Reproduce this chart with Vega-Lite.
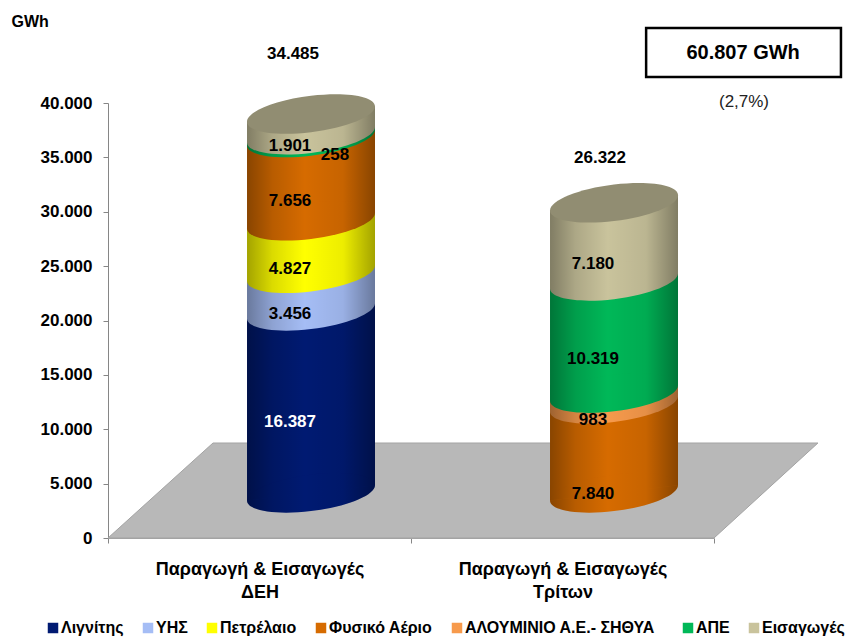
{
"$schema":"https://vega.github.io/schema/vega-lite/v6.json",
"width":606,"height":435,"autosize":"none",
"padding":{"left":108,"top":103,"right":134,"bottom":100},
"background":"white",
"config":{"view":{"stroke":null},"text":{"font":"Liberation Sans"},"axis":{"labelFont":"Liberation Sans"},"legend":{"labelFont":"Liberation Sans"}},
"data":{"values":[
{"g":"ΔΕΗ","n":1,"name":"Λιγνίτης","value":16387},
{"g":"ΔΕΗ","n":2,"name":"ΥΗΣ","value":3456},
{"g":"ΔΕΗ","n":3,"name":"Πετρέλαιο","value":4827},
{"g":"ΔΕΗ","n":4,"name":"Φυσικό Αέριο","value":7656},
{"g":"ΔΕΗ","n":6,"name":"ΑΠΕ","value":258},
{"g":"ΔΕΗ","n":7,"name":"Εισαγωγές","value":1901},
{"g":"Τρίτων","n":4,"name":"Φυσικό Αέριο","value":7840},
{"g":"Τρίτων","n":5,"name":"ΑΛΟΥΜΙΝΙΟ  Α.Ε.-  ΣΗΘΥΑ","value":983},
{"g":"Τρίτων","n":6,"name":"ΑΠΕ","value":10319},
{"g":"Τρίτων","n":7,"name":"Εισαγωγές","value":7180}
]},
"transform":[
{"stack":"value","groupby":["g"],"sort":[{"field":"n","order":"ascending"}],"as":["y0","y1"]},
{"calculate":"datum.g=='ΔΕΗ'?0.67:1.67","as":"cx"},
{"calculate":"datum.y0==0?4150:datum.y0+4500","as":"b0"},
{"calculate":"datum.y1+4500","as":"b1"},
{"calculate":"(datum.y0+datum.y1)/2","as":"mid"},
{"calculate":"replace(format(datum.value,','),',','.')","as":"label"}
],
"resolve":{"axis":{"x":"independent","y":"independent"}},
"encoding":{},
"layer":[
{"data":{"values":[{"v":0,"a":0,"b":2},{"v":8735,"a":0.3465,"b":2.343}]},
 "transform":[],
 "mark":{"type":"area","orient":"horizontal","fill":"#b8b8b8","stroke":"#a3a3a3","strokeWidth":1},
 "encoding":{
  "y":{"field":"v","type":"quantitative","scale":{"domain":[0,40000],"nice":false},"title":null,
   "axis":{"orient":"left","values":[0,5000,10000,15000,20000,25000,30000,35000,40000],"labelExpr":"replace(format(datum.value,','),',','.')","labelFontSize":17,"labelFontWeight":"bold","labelColor":"#000000","labelPadding":11,"tickSize":5,"tickColor":"#868686","domainColor":"#868686","grid":false}},
  "x":{"field":"a","type":"quantitative","scale":{"domain":[0,2],"nice":false},"title":null,"stack":null,
   "axis":{"values":[0,1,2],"labels":false,"tickSize":5,"tickColor":"#868686","domainColor":"#a3a3a3","grid":false,"orient":"bottom"}},
  "x2":{"field":"b"}
 }},
{"transform":[{"calculate":"[-1,1]","as":"sides"},{"flatten":["sides"],"as":["side"]},
  {"calculate":"datum.cx+datum.side*0.2112","as":"px"},
  {"calculate":"datum.b0+datum.side*706","as":"lo"},
  {"calculate":"datum.b1+datum.side*706","as":"hi"}],
 "mark":{"type":"area","opacity":1},
 "encoding":{
  "x":{"field":"px","type":"quantitative","axis":null},
  "y":{"field":"lo","type":"quantitative","axis":null,"stack":null},
  "y2":{"field":"hi"},
  "detail":{"field":"g"},
  "color":{"field":"name","type":"nominal",
   "scale":{"domain":["Λιγνίτης","ΥΗΣ","Πετρέλαιο","Φυσικό Αέριο","ΑΛΟΥΜΙΝΙΟ  Α.Ε.-  ΣΗΘΥΑ","ΑΠΕ","Εισαγωγές"],
    "range":["#001a72","#a5bdf5","#ffff00","#d66b00","#f79a4c","#00b858","#c9c39c"]},
   "legend":{"title":null,"orient":"none","legendX":-63,"legendY":517,"direction":"horizontal","columns":7,"columnPadding":16,"symbolType":"square","symbolSize":110,"symbolStrokeWidth":0,"symbolOpacity":1,"labelFontSize":16,"labelFontWeight":"bold","labelColor":"#000000","labelOffset":0,"labelLimit":300}}
 }},
{"mark":{"type":"point","filled":true,"opacity":1,"size":16384,"strokeWidth":0,
  "shape":"M1,-0.12C1,0.0374,0.5523,0.2187,0,0.285C-0.5523,0.3513,-1,0.2774,-1,0.12C-1,-0.0374,-0.5523,-0.2187,0,-0.285C0.5523,-0.3513,1,-0.2774,1,-0.12Z"},
 "encoding":{
  "x":{"field":"cx","type":"quantitative","axis":null},
  "y":{"field":"b0","type":"quantitative","axis":null},
  "color":{"field":"name","type":"nominal","legend":null},
  "order":{"field":"n","type":"quantitative"}
 }},
{"transform":[{"aggregate":[{"op":"sum","field":"value","as":"total"}],"groupby":["g","cx"]},
  {"calculate":"[-1,1]","as":"sides"},{"flatten":["sides"],"as":["side"]},
  {"calculate":"datum.cx+datum.side*0.2112","as":"px"},
  {"calculate":"4150+datum.side*706","as":"lo"},
  {"calculate":"datum.total+4500+datum.side*706","as":"hi"}],
 "mark":{"type":"area","fill":{"x1":0,"x2":1,"y1":0,"y2":0,"gradient":"linear","stops":[{"offset":0,"color":"rgba(0,0,0,0.36)"},{"offset":0.2,"color":"rgba(0,0,0,0.14)"},{"offset":0.45,"color":"rgba(0,0,0,0)"},{"offset":0.75,"color":"rgba(0,0,0,0.07)"},{"offset":1,"color":"rgba(0,0,0,0.36)"}]}},
 "encoding":{
  "x":{"field":"px","type":"quantitative","axis":null},
  "y":{"field":"lo","type":"quantitative","axis":null,"stack":null},
  "y2":{"field":"hi"},
  "detail":{"field":"g"}
 }},
{"transform":[{"filter":"datum.y0==0"}],
 "mark":{"type":"point","filled":true,"opacity":1,"size":16384,"strokeWidth":0,
  "fill":{"x1":0,"x2":1,"y1":0,"y2":0,"gradient":"linear","stops":[{"offset":0,"color":"rgba(0,0,0,0.36)"},{"offset":0.2,"color":"rgba(0,0,0,0.14)"},{"offset":0.45,"color":"rgba(0,0,0,0)"},{"offset":0.75,"color":"rgba(0,0,0,0.07)"},{"offset":1,"color":"rgba(0,0,0,0.36)"}]},
  "shape":"M1,-0.12C1,0.0374,0.5523,0.2187,0,0.285C-0.5523,0.3513,-1,0.2774,-1,0.12Z"},
 "encoding":{
  "x":{"field":"cx","type":"quantitative","axis":null},
  "y":{"field":"b0","type":"quantitative","axis":null}
 }},
{"transform":[{"filter":"datum.n==7"}],
 "mark":{"type":"point","filled":true,"opacity":1,"size":16384,"strokeWidth":0,"fill":"#918d72",
  "shape":"M1,-0.12C1,0.0374,0.5523,0.2187,0,0.285C-0.5523,0.3513,-1,0.2774,-1,0.12C-1,-0.0374,-0.5523,-0.2187,0,-0.285C0.5523,-0.3513,1,-0.2774,1,-0.12Z"},
 "encoding":{
  "x":{"field":"cx","type":"quantitative","axis":null},
  "y":{"field":"b1","type":"quantitative","axis":null}
 }},
{"transform":[{"filter":"datum.value!=258 && datum.value!=7840"}],
 "mark":{"type":"text","dx":-21,"dy":-27,"fontSize":17,"fontWeight":"bold"},
 "encoding":{
  "x":{"field":"cx","type":"quantitative","scale":{"domain":[0,2],"nice":false},"title":null,
   "axis":{"orient":"bottom","values":[0.5,1.5],"labelExpr":"datum.value==0.5?['Παραγωγή & Εισαγωγές','ΔΕΗ']:['Παραγωγή & Εισαγωγές','Τρίτων']","ticks":false,"domain":false,"grid":false,"labelFontSize":18,"labelFontWeight":"bold","labelColor":"#000000","labelPadding":22,"labelLineHeight":23,"labelLimit":300}},
  "y":{"field":"mid","type":"quantitative","axis":null},
  "text":{"field":"label"},
  "color":{"condition":{"test":"datum.value==16387","value":"#ffffff"},"value":"#000000"}
 }},
{"transform":[{"filter":"datum.value==258"}],
 "mark":{"type":"text","dx":24,"dy":-30,"fontSize":17,"fontWeight":"bold","color":"#000000"},
 "encoding":{"x":{"field":"cx","type":"quantitative","axis":null},"y":{"field":"mid","type":"quantitative","axis":null},"text":{"field":"label"}}},
{"transform":[{"filter":"datum.value==7840"}],
 "mark":{"type":"text","dx":-21,"dy":-1,"fontSize":17,"fontWeight":"bold","color":"#000000"},
 "encoding":{"x":{"field":"cx","type":"quantitative","axis":null},"y":{"field":"mid","type":"quantitative","axis":null},"text":{"field":"label"}}},
{"transform":[{"aggregate":[{"op":"sum","field":"value","as":"total"}],"groupby":["g","cx"]},{"filter":"datum.g=='ΔΕΗ'"},{"calculate":"replace(format(datum.total,','),',','.')","as":"t"}],
 "mark":{"type":"text","dx":-18,"dy":-109,"fontSize":17,"fontWeight":"bold","color":"#000000"},
 "encoding":{"x":{"field":"cx","type":"quantitative","axis":null},"y":{"field":"total","type":"quantitative","axis":null},"text":{"field":"t"}}},
{"transform":[{"aggregate":[{"op":"sum","field":"value","as":"total"}],"groupby":["g","cx"]},{"filter":"datum.g=='Τρίτων'"},{"calculate":"replace(format(datum.total,','),',','.')","as":"t"}],
 "mark":{"type":"text","dx":-14,"dy":-94,"fontSize":17,"fontWeight":"bold","color":"#000000"},
 "encoding":{"x":{"field":"cx","type":"quantitative","axis":null},"y":{"field":"total","type":"quantitative","axis":null},"text":{"field":"t"}}},
{"data":{"values":[{"k":1}]},"transform":[],
 "mark":{"type":"rect","fill":"#ffffff","stroke":"#000000","strokeWidth":2.5},
 "encoding":{"x":{"datum":1.776,"type":"quantitative","axis":null},"x2":{"datum":2.419},"y":{"datum":46897,"type":"quantitative","axis":null},"y2":{"datum":42391}}},
{"data":{"values":[{"k":1}]},"transform":[],
 "mark":{"type":"text","text":"60.807 GWh","fontSize":20,"fontWeight":"bold","color":"#000000"},
 "encoding":{"x":{"datum":2.096,"type":"quantitative","axis":null},"y":{"datum":44600,"type":"quantitative","axis":null}}},
{"data":{"values":[{"k":1}]},"transform":[],
 "mark":{"type":"text","text":"(2,7%)","fontSize":17,"color":"#222222"},
 "encoding":{"x":{"datum":2.099,"type":"quantitative","axis":null},"y":{"datum":40090,"type":"quantitative","axis":null}}},
{"data":{"values":[{"k":1}]},"transform":[],
 "mark":{"type":"text","text":"GWh","fontSize":16,"fontWeight":"bold","color":"#000000"},
 "encoding":{"x":{"datum":-0.257,"type":"quantitative","axis":null},"y":{"datum":47450,"type":"quantitative","axis":null}}}
]
}
